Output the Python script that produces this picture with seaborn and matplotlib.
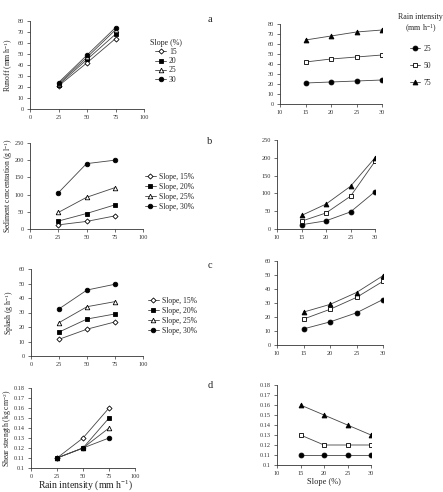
import matplotlib
matplotlib.use("Agg")
import matplotlib.pyplot as plt
import seaborn as sns

# x values
rain = [25, 50, 75]
slopes = [15, 20, 25, 30]

# rows = rain intensity (25, 50, 75 mm/h), cols = slope (15, 20, 25, 30 %)
runoff = [[21, 22, 23, 24],
          [42, 45, 47, 49],
          [64, 68, 72, 74]]
sediment = [[12, 23, 48, 105],
            [22, 45, 92, 190],
            [38, 70, 120, 200]]
splash = [[11.5, 16.5, 23, 32.5],
          [18.5, 25.5, 34, 45.5],
          [23.5, 29, 37.5, 49.5]]
shear = [[0.11, 0.11, 0.11, 0.11],
         [0.13, 0.12, 0.12, 0.12],
         [0.16, 0.15, 0.14, 0.13]]

W, H = 443, 492

sns.set_style("ticks")
plt.rcParams["font.family"] = ["Liberation Serif", "DejaVu Serif"]
plt.rcParams["mathtext.default"] = "regular"

# marker, filled?
slope_mk = [("D", False), ("s", True), ("^", False), ("o", True)]
rain_mk = [("o", True), ("s", False), ("^", True)]

fig = plt.figure(figsize=(W / 100, H / 100), dpi=100)


def px_axes(l, t, r, b):
    return fig.add_axes([l / W, 1 - b / H, (r - l) / W, (b - t) / H])


def style(ax, xlim, xticks, ylim, yticks, ylabels=None):
    ax.set_xlim(*xlim)
    ax.set_ylim(*ylim)
    ax.set_xticks(xticks)
    ax.set_yticks(yticks)
    if ylabels is not None:
        ax.set_yticklabels(ylabels)
    sns.despine(ax=ax)
    for s in ["left", "bottom"]:
        ax.spines[s].set_linewidth(0.6)
        ax.spines[s].set_color("#333333")
    ax.tick_params(labelsize=4.5, length=2, width=0.5, pad=2.5, colors="#333333")
    ax.set_xlabel("")
    ax.set_ylabel("")


def draw_left(ax, data, labels):
    for j, (m, filled) in enumerate(slope_mk):
        ys = [data[i][j] for i in range(len(rain))]
        sns.lineplot(x=rain, y=ys, ax=ax, color="#444444", lw=0.6,
                     marker=m, markersize=3.3 if m != "D" else 2.6,
                     markerfacecolor="black" if filled else "white",
                     markeredgecolor="black", markeredgewidth=0.6,
                     label=labels[j], legend=False)


def draw_right(ax, data, labels):
    for i, (m, filled) in enumerate(rain_mk):
        sns.lineplot(x=slopes, y=data[i], ax=ax, color="#444444", lw=0.6,
                     marker=m, markersize=3.5,
                     markerfacecolor="black" if filled else "white",
                     markeredgecolor="black", markeredgewidth=0.6,
                     label=labels[i], legend=False)


def add_legend(ax, x, y, title=None, spacing=0.2, fs=5.5):
    leg = ax.legend(loc="upper left", bbox_to_anchor=(x / W, 1 - y / H),
                    bbox_transform=fig.transFigure, frameon=False,
                    fontsize=fs, handlelength=1.4, handletextpad=0.4,
                    labelspacing=spacing, borderpad=0, borderaxespad=0,
                    title=title, title_fontsize=5.8)
    if title:
        leg.get_title().set_multialignment("center")


def ylab(ax, x, text, fs=5.5):
    pos = ax.get_position()
    fig.text(x / W, pos.y0 + pos.height / 2, text, rotation=90,
             ha="center", va="center", fontsize=fs, color="#222222")


left_x = (0, 100)
left_ticks = [0, 25, 50, 75, 100]
right_x = (10, 30)
right_ticks = [10, 15, 20, 25, 30]
slope_num = [str(s) for s in slopes]
slope_txt = ["Slope, %d%%" % s for s in slopes]
rain_txt = [str(r) for r in rain]

# panel a
ax = px_axes(30, 21, 144, 109)
draw_left(ax, runoff, slope_num)
style(ax, left_x, left_ticks, (0, 80), range(0, 81, 10))
add_legend(ax, 150, 39, title="Slope (%)", spacing=0.15, fs=5.5)
ylab(ax, 9, "Runoff (mm h$^{-1}$)")

ax = px_axes(280, 24, 382, 104)
draw_right(ax, runoff, rain_txt)
style(ax, right_x, right_ticks, (0, 80), range(0, 81, 10))
add_legend(ax, 398, 13, title="Rain intensity\n(mm h$^{-1}$)", spacing=1.2, fs=5.5)

# panel b
ax = px_axes(30, 143, 143, 229)
draw_left(ax, sediment, slope_txt)
style(ax, left_x, left_ticks, (0, 250), range(0, 251, 50))
add_legend(ax, 145, 173, spacing=0.25, fs=5.5)
ylab(ax, 9, "Sediment concentration (g l$^{-1}$)")

ax = px_axes(277, 140, 375, 229)
draw_right(ax, sediment, rain_txt)
style(ax, right_x, right_ticks, (0, 250), range(0, 251, 50))

# panel c
ax = px_axes(31, 269, 143, 356)
draw_left(ax, splash, slope_txt)
style(ax, left_x, left_ticks, (0, 60), range(0, 61, 10))
add_legend(ax, 148, 297, spacing=0.25, fs=5.5)
ylab(ax, 9, "Splash (g h$^{-1}$)")

ax = px_axes(277, 261, 383, 345)
draw_right(ax, splash, rain_txt)
style(ax, right_x, right_ticks, (0, 60), range(0, 61, 10))

# panel d
shear_ticks = [0.1 + 0.01 * k for k in range(9)]
shear_lbls = ["0.1"] + ["%.2f" % t for t in shear_ticks[1:]]
ax = px_axes(31, 388, 135, 468)
draw_left(ax, shear, slope_txt)
style(ax, left_x, left_ticks, (0.1, 0.18), shear_ticks, shear_lbls)
ylab(ax, 8, "Shear strength (kg cm$^{-2}$)")
fig.text(85 / W, 1 - 485 / H, "Rain intensity (mm h$^{-1}$)", ha="center",
         va="center", fontsize=7, color="#222222")

ax = px_axes(277, 385, 371, 465)
draw_right(ax, shear, rain_txt)
style(ax, right_x, right_ticks, (0.1, 0.18), shear_ticks, shear_lbls)
fig.text(324 / W, 1 - 482 / H, "Slope (%)", ha="center", va="center",
         fontsize=6, color="#222222")

# panel letters
for letter, y in zip("abcd", [19, 141, 265, 386]):
    fig.text(210 / W, 1 - y / H, letter, ha="center", va="center",
             fontsize=7.5, color="#222222")

fig.savefig("out.png", dpi=100)
